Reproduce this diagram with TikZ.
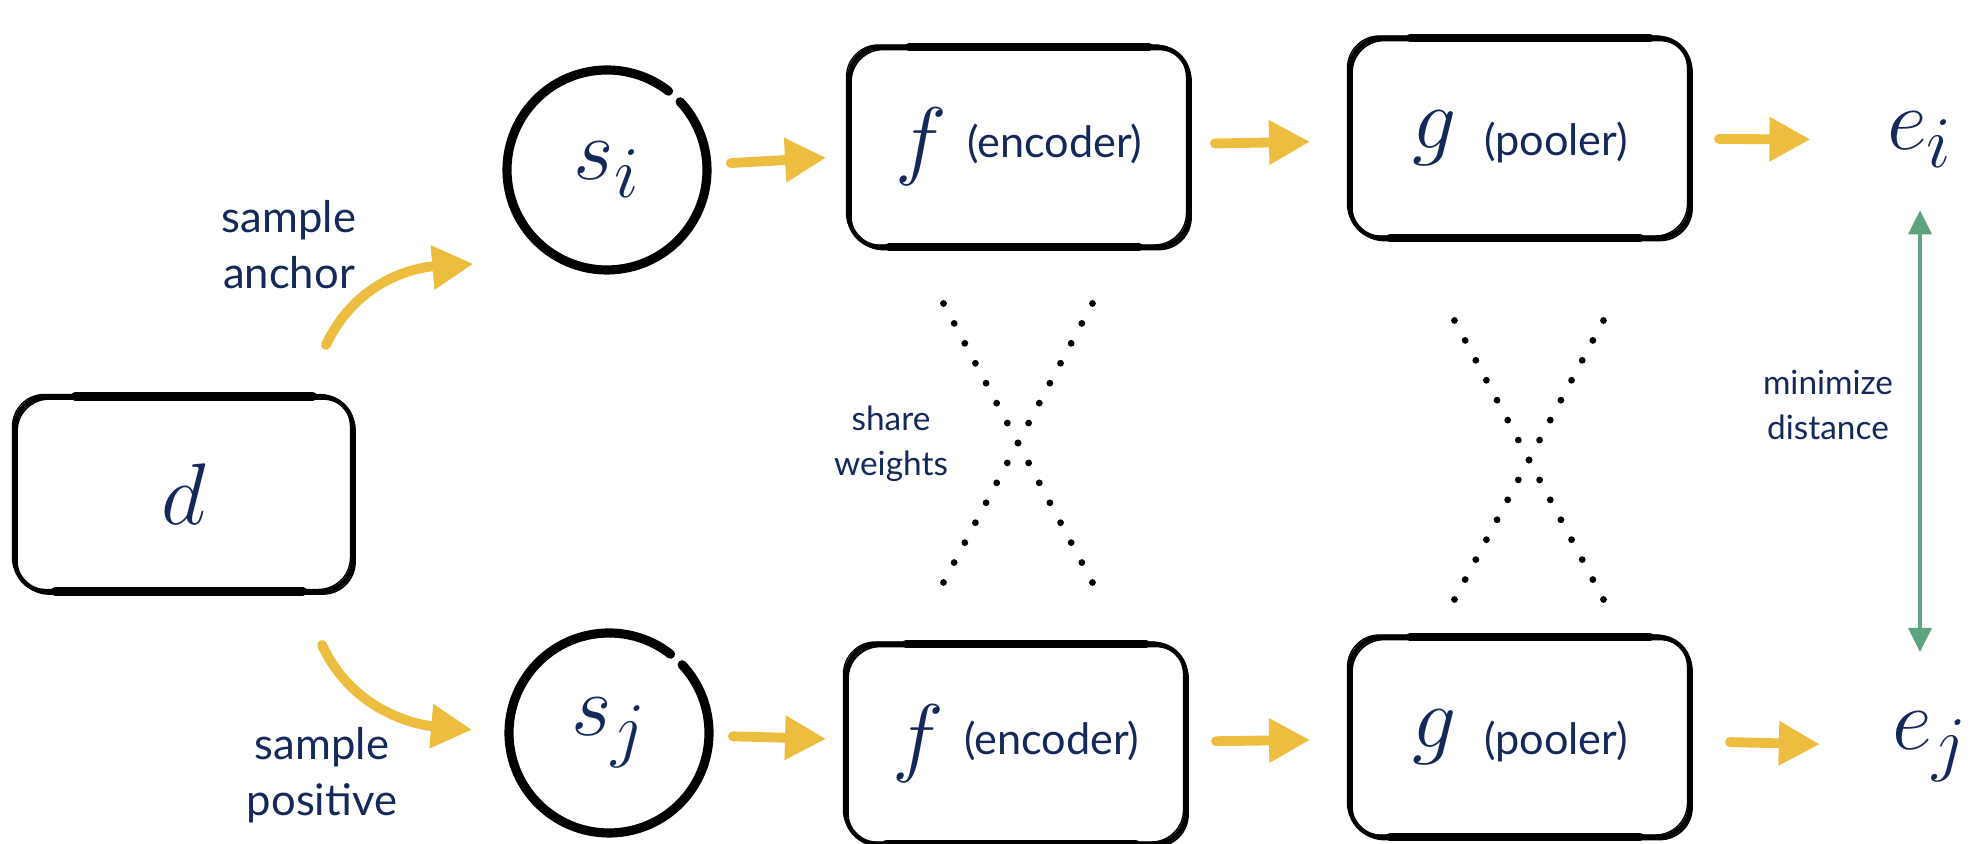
\documentclass[tikz,border=0pt]{standalone}
\usepackage{fontspec}
\setmainfont{Lato}
\usetikzlibrary{arrows.meta, positioning}

\definecolor{inkblue}{HTML}{14285A}
\definecolor{mustard}{HTML}{EDBD40}
\definecolor{sage}{HTML}{5DA37E}
\newcommand{\towerfont}{\fontsize{12.3}{14}\selectfont}

\begin{document}
\begin{tikzpicture}[
  every node/.style={text=inkblue},
  sketchbox/.style={draw=black, line width=1.3pt, rounded corners=0.32cm,
    minimum width=3.4cm, minimum height=2.0cm, inner sep=0pt, outer sep=0pt, font=\Huge,
    postaction={draw, line width=0.5pt, transform canvas={shift={(0.02,-0.025)}}},
    postaction={draw, line width=0.4pt, transform canvas={shift={(-0.025,0.02)}}}},
  brush/.style={line width=2.3pt, line cap=round},
  blob/.style={circle, minimum size=2cm, inner sep=0pt, outer sep=0pt, font=\Huge},
  ring/.style={line width=2.6pt, line cap=round},
  flow/.style={-{Triangle[length=0.41cm, width=0.42cm]}, draw=mustard, line width=2.8pt, line cap=round},
  dist/.style={{Triangle[length=0.24cm, width=0.23cm]}-{Triangle[length=0.24cm, width=0.23cm]}, draw=sage, line width=1.1pt},
  lbl/.style={align=center, font=\fontsize{12.4}{16}\selectfont},
  small/.style={align=center, font=\fontsize{9.5}{12.9}\selectfont},
  node distance=4cm]

\useasboundingbox (0,0) rectangle (19.74,8.44);

% the document and the two sampled sentences
  \node[sketchbox, minimum width=3.38cm, minimum height=1.95cm] (d) at (1.84,3.50) {$d$};
  \node[blob] (si) at (6.07,6.74) {$s_i$};
  \node[blob] (sj) [below of=si, node distance=5.63cm, xshift=0.02cm] {$s_j$};

% upper tower
  \node[sketchbox] (f1) [right of=si, node distance=4.12cm, yshift=0.23cm]
{$f$\hspace{0.2cm}\raisebox{0.11cm}{\towerfont (encoder)}};
  \node[sketchbox] (g1) [right of=f1, node distance=5.01cm, yshift=0.09cm]
{$g$\hspace{0.28cm}\raisebox{-0.07cm}{\towerfont (pooler)}};
  \node[font=\Huge, inner sep=0pt] (ei) [right of=g1, node distance=4.0cm, yshift=-0.02cm]
{$e_i$};

% lower tower
  \node[sketchbox] (f2) [right of=sj, node distance=4.07cm, yshift=-0.11cm]
{$f$\hspace{0.2cm}\raisebox{0.11cm}{\towerfont (encoder)}};
  \node[sketchbox] (g2) [right of=f2, node distance=5.04cm, yshift=0.07cm]
{$g$\hspace{0.28cm}\raisebox{-0.07cm}{\towerfont (pooler)}};
  \node[font=\Huge, inner sep=0pt] (ej) [right of=g2, node distance=4.10cm, yshift=-0.10cm]
{$e_j$};

% labels
  \node[lbl] (anchortxt) at (2.89,5.99) {sample\\anchor};
  \node[lbl] (postxt) at (3.22,0.69) {sample\\positive};
  \node[small] (sharetxt) at (8.91,4.00) {share\\weights};
  \node[small] (disttxt) at (18.28,4.39) {minimize\\distance};

  \coordinate[above left=0.515cm and 0.27cm of d.north east] (a0);
  \coordinate[below left=0.535cm and 0.31cm of d.south east] (p0);

% heavier brush strokes on the box edges
  \foreach \b in {d,f1,g1,f2,g2} {
    \draw[brush] ([xshift=0.6cm]\b.north west) -- ([xshift=-0.4cm]\b.north east);
    \draw[brush] ([xshift=0.4cm]\b.south west) -- ([xshift=-0.5cm]\b.south east);
  }

% brushed rings round the sentences
  \draw[ring] (si.52) arc[start angle=52, end angle=403, radius=1cm];
  \draw[ring] (sj.52) arc[start angle=52, end angle=403, radius=1cm];

% shared weights
  \foreach \cx/\cy in {10.18/4.01, 15.29/3.84}
    \foreach \k in {0,...,14} {
      \fill (\cx-0.745+0.1064*\k, \cy+1.395-0.1993*\k) circle (0.034);
      \fill (\cx-0.745+0.1064*\k, \cy-1.395+0.1993*\k) circle (0.034);
    }

% define the links
  \path (si) edge[flow, shorten <=0.24cm, shorten >=0.23cm] (f1)
        (f1) edge[flow, shorten <=0.26cm, shorten >=0.40cm] (g1)
        (g1) edge[flow, shorten <=0.29cm, shorten >=0.76cm] (ei)
        (sj) edge[flow, shorten <=0.24cm, shorten >=0.20cm] (f2)
        (f2) edge[flow, shorten <=0.30cm, shorten >=0.40cm] (g2)
        (g2) edge[flow, shorten <=0.40cm, shorten >=0.72cm] (ej)
        (a0) edge[flow, out=65, in=185, shorten >=0.84cm] (si.240)
        (p0) edge[flow, out=-65, in=175, shorten >=0.37cm] (sj.west);

  \draw[dist, shorten <=0.42cm, shorten >=0.95cm] (ei) -- (ei |- ej);

\end{tikzpicture}
\end{document}
